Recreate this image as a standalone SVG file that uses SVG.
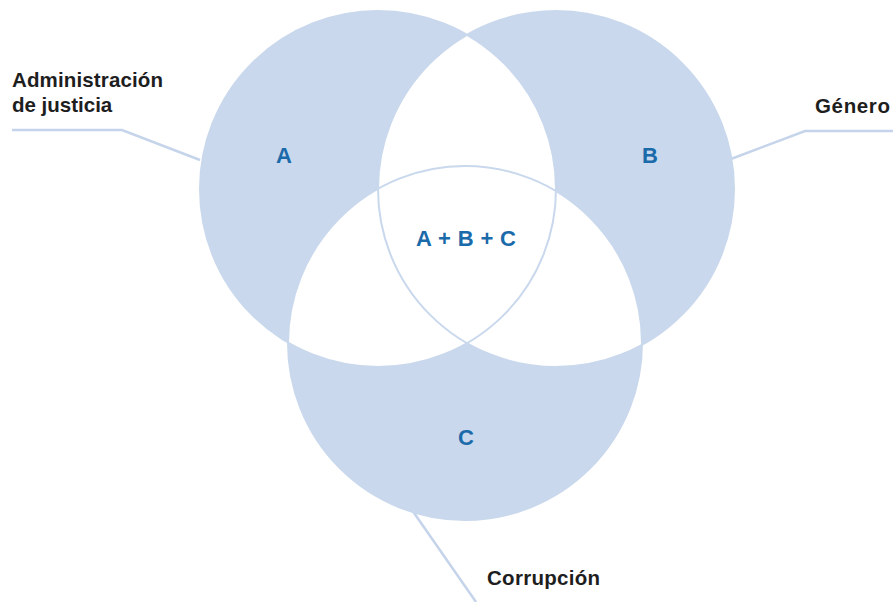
<svg xmlns="http://www.w3.org/2000/svg" width="895" height="602" viewBox="0 0 895 602">
<style>
.fill{fill:#c9d8ec}
.white{fill:#ffffff}
.ring{fill:none;stroke:#c9d8ec;stroke-width:2}
.lead{fill:none;stroke:#c5d4ea;stroke-width:2.5}
.lbl{font-family:"Liberation Sans",Arial,sans-serif;font-weight:bold;font-size:20.5px;fill:#1e1e1e}
.set{font-family:"Liberation Sans",Arial,sans-serif;font-weight:bold;font-size:22px;fill:#1b6aaa;text-anchor:middle}
</style>
<defs>
<clipPath id="clipA"><circle cx="378" cy="189" r="178"/></clipPath>
<clipPath id="clipB"><circle cx="556" cy="189" r="178"/></clipPath>
</defs>
<g id="connectors">
<polyline class="lead" points="12,130 122,130 200,160"/>
<polyline class="lead" points="731,159 805,131 893,131"/>
<polyline class="lead" points="412,510 476,602"/>
</g>
<g id="venn">
<circle class="fill" cx="378" cy="189" r="178"/>
<circle class="fill" cx="556" cy="189" r="178"/>
<circle class="fill" cx="465" cy="343" r="177"/>
<circle class="white" cx="556" cy="189" r="178" clip-path="url(#clipA)"/>
<circle class="white" cx="465" cy="343" r="177" clip-path="url(#clipA)"/>
<circle class="white" cx="465" cy="343" r="177" clip-path="url(#clipB)"/>
<circle class="ring" cx="378" cy="189" r="178"/>
<circle class="ring" cx="556" cy="189" r="178"/>
<circle class="ring" cx="465" cy="343" r="177"/>
</g>
<g id="nodeA"><text class="set" x="284" y="163">A</text></g>
<g id="nodeB"><text class="set" x="650" y="163">B</text></g>
<g id="nodeC"><text class="set" x="466" y="445">C</text></g>
<g id="nodeABC"><text class="set" x="466" y="246" textLength="100">A + B + C</text></g>
<g id="labelA"><text class="lbl" x="12" y="87" textLength="151">Administración</text><text class="lbl" x="12" y="112">de justicia</text></g>
<g id="labelB"><text class="lbl" x="815" y="113" textLength="75">Género</text></g>
<g id="labelC"><text class="lbl" x="487" y="585" textLength="113">Corrupción</text></g>
</svg>
